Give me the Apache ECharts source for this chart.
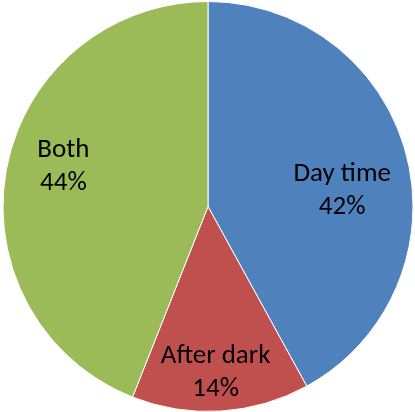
<!DOCTYPE html>
<html>
<head>
<meta charset="utf-8">
<script src="https://cdn.jsdelivr.net/npm/echarts@6/dist/echarts.min.js"></script>
<style>
  html, body { margin: 0; padding: 0; background: #fff; }
  #chart { width: 415px; height: 412px; }
</style>
</head>
<body>
<div id="chart"></div>
<script>
// Share of activity by time of day
const categories = ['Day time', 'After dark', 'Both'];
const shares = [42, 14, 44];
const colors = ['#4F81BD', '#C0504D', '#9BBB59'];
// label nudges (px) from the default inside position
const labelShift = [[32, 10], [1, 61], [-41, -20]];

const chart = echarts.init(document.getElementById('chart'));
chart.setOption({
  animation: false,
  series: [{
    type: 'pie',
    center: [208, 206.5],
    radius: [0, 205],
    startAngle: 90,
    clockwise: true,
    itemStyle: { borderColor: '#fff', borderWidth: 1 },
    label: {
      show: true,
      position: 'inside',
      formatter: p => p.name + '\n' + p.value + '%',
      color: '#000',
      fontFamily: 'Carlito, Calibri, Lato, sans-serif',
      fontSize: 27,
      lineHeight: 33
    },
    labelLayout: p => ({ dx: labelShift[p.dataIndex][0], dy: labelShift[p.dataIndex][1] }),
    emphasis: { disabled: true },
    data: categories.map((c, i) => ({ name: c, value: shares[i], itemStyle: { color: colors[i] } }))
  }]
});
</script>
</body>
</html>
